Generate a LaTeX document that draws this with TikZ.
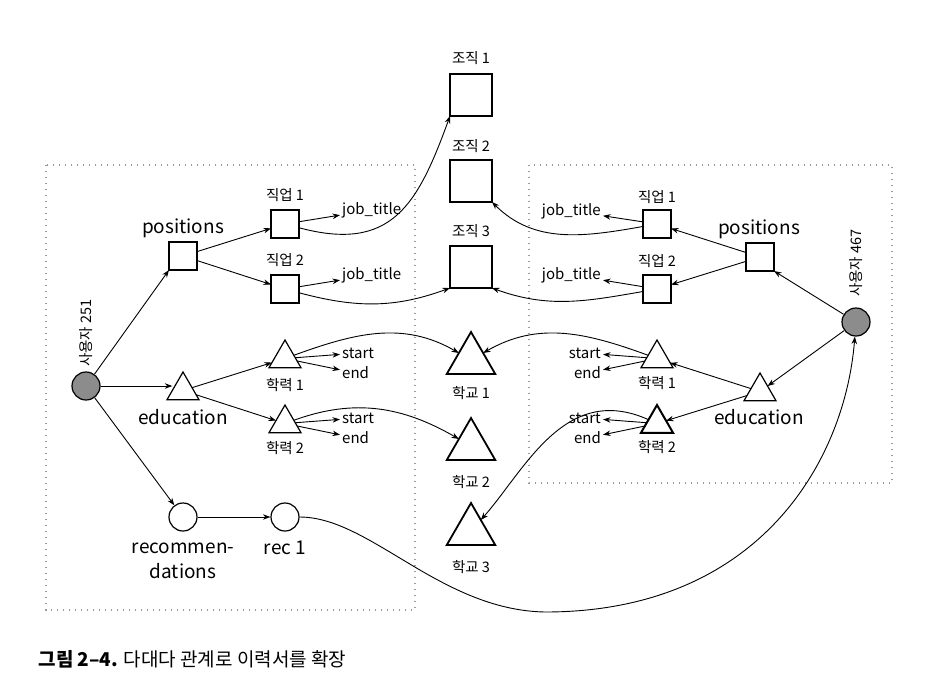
\documentclass[tikz,border=0pt]{standalone}
\usepackage{fontspec}
\setmainfont{Noto Sans CJK KR}
\usepackage{xcolor}
\usepackage{tikz}
\usetikzlibrary{shapes.geometric,arrows.meta}

\begin{document}
\begin{tikzpicture}[x=1pt,y=1pt,>={Stealth[length=7.5pt,width=5.5pt]},
    ent/.style={draw,line width=1.2pt,minimum size=28pt,inner sep=0pt,outer sep=0pt},
    bigent/.style={ent,line width=1.5pt,minimum size=42pt},
    tri/.style={draw,line width=1.2pt,regular polygon,regular polygon sides=3,minimum size=37pt,inner sep=0pt,outer sep=0pt},
    bigtri/.style={tri,line width=1.8pt,minimum size=56pt},
    person/.style={circle,draw,line width=1.2pt,fill=black!45,minimum size=28pt,inner sep=0pt},
    recnode/.style={circle,draw,line width=1.2pt,minimum size=28pt,inner sep=0pt},
    big/.style={font=\fontsize{19}{25}\selectfont,inner sep=1pt},
    sml/.style={font=\fontsize{15}{18}\selectfont,inner sep=2pt},
    kor/.style={font=\fontsize{14.5}{17}\selectfont,inner sep=1pt},
    link/.style={->,line width=0.9pt},
    groupbox/.style={black!40,line width=1.2pt,dash pattern=on 1.2pt off 4.8pt}]
                \useasboundingbox (0,0) rectangle (939,-697);

                % Dotted boxes round each user
                \draw[groupbox] (46,-165) rectangle (415,-610);
                \draw[groupbox] (529,-165) rectangle (892,-483);

                % User 251
                \node[person] (uL) at (86,-386) {};
                \node[kor,rotate=90] (uLt) at (86,-333) {사용자 251};
                \node[ent] (posL) at (183,-256) {};
                \node[big] (posLt) at (183,-228) {positions};
                \node[ent] (jobL1) at (285,-224) {};
                \node[kor] (jobL1t) at (285,-195) {직업 1};
                \node[sml,anchor=west] (jtL1) at (340,-210) {job\_title};
                \node[ent] (jobL2) at (285,-289) {};
                \node[kor] (jobL2t) at (285,-260) {직업 2};
                \node[sml,anchor=west] (jtL2) at (340,-275) {job\_title};
                \node[tri] (eduL) at (183,-390.5) {};
                \node[big] (eduLt) at (183,-417) {education};
                \node[tri] (degL1) at (285,-358.5) {};
                \node[kor] (degL1t) at (285,-385) {학력 1};
                \node[sml,anchor=west] (stL1) at (340,-353) {start};
                \node[sml,anchor=west] (enL1) at (340,-373) {end};
                \node[tri] (degL2) at (285,-423.5) {};
                \node[kor] (degL2t) at (285,-448) {학력 2};
                \node[sml,anchor=west] (stL2) at (340,-418) {start};
                \node[sml,anchor=west] (enL2) at (340,-438) {end};
                \node[recnode] (recsL) at (183,-517) {};
                \node[big,align=center] (recsLt) at (183,-561) {recommen-\\dations};
                \node[recnode] (recL1) at (285,-517) {};
                \node[big] (recL1t) at (285,-548) {rec 1};

                % Shared organisations and schools
                \node[bigent] (orgA) at (471,-95) {};
                \node[kor] (orgAt) at (471,-58) {조직 1};
                \node[bigent] (orgB) at (471,-181) {};
                \node[kor] (orgBt) at (471,-146) {조직 2};
                \node[bigent,line width=2pt] (orgC) at (471,-267) {};
                \node[kor] (orgCt) at (471,-231) {조직 3};
                \node[bigtri] (schA) at (471,-360) {};
                \node[kor] (schAt) at (471,-393) {학교 1};
                \node[bigtri] (schB) at (471,-446) {};
                \node[kor] (schBt) at (471,-482) {학교 2};
                \node[bigtri] (schC) at (471,-531) {};
                \node[kor] (schCt) at (471,-567) {학교 3};

                % User 467
                \node[person] (uR) at (856,-322) {};
                \node[kor,rotate=90] (uRt) at (856,-263) {사용자 467};
                \node[ent] (posR) at (760,-257) {};
                \node[big] (posRt) at (759,-229) {positions};
                \node[ent] (jobR1) at (657,-224) {};
                \node[kor] (jobR1t) at (657,-197) {직업 1};
                \node[sml,anchor=east] (jtR1) at (603,-211) {job\_title};
                \node[ent] (jobR2) at (657,-289) {};
                \node[kor] (jobR2t) at (657,-261) {직업 2};
                \node[sml,anchor=east] (jtR2) at (603,-275) {job\_title};
                \node[tri] (degR1) at (657,-358.5) {};
                \node[kor] (degR1t) at (657,-383) {학력 1};
                \node[sml,anchor=east] (stR1) at (603,-353) {start};
                \node[sml,anchor=east] (enR1) at (603,-373) {end};
                \node[tri] (eduR) at (760,-391.5) {};
                \node[big] (eduRt) at (759,-417) {education};
                \node[tri,line width=2pt] (degR2) at (657,-423.5) {};
                \node[kor] (degR2t) at (657,-447) {학력 2};
                \node[sml,anchor=east] (stR2) at (603,-418) {start};
                \node[sml,anchor=east] (enR2) at (603,-438) {end};

                % Edges inside user 251
                \draw[link] (uL) -- (posL.south west);
                \draw[link] (uL.east) -- (eduL.west |- uL.east);
                \draw[link] (uL) -- (recsL);
                \draw[link] (posL) -- (jobL1);
                \draw[link] (posL) -- (jobL2);
                \draw[link] (jobL1) -- (jtL1);
                \draw[link] (jobL2) -- (jtL2);
                \draw[link] (eduL) -- (degL1);
                \draw[link] (eduL) -- (degL2);
                \draw[link] (degL1) -- (stL1);
                \draw[link] (degL1) -- (enL1);
                \draw[link] (degL2) -- (stL2);
                \draw[link] (degL2) -- (enL2);
                \draw[link] (recsL) -- (recL1);

                % Edges inside user 467
                \draw[link] (uR) -- (posR.south east);
                \draw[link] (uR) -- (eduR);
                \draw[link] (posR) -- (jobR1);
                \draw[link] (posR) -- (jobR2);
                \draw[link] (jobR1) -- (jtR1);
                \draw[link] (jobR2) -- (jtR2);
                \draw[link] (eduR) -- (degR1);
                \draw[link] (eduR) -- (degR2);
                \draw[link] (degR1) -- (stR1);
                \draw[link] (degR1) -- (enR1);
                \draw[link] (degR2) -- (stR2);
                \draw[link] (degR2) -- (enR2);

                % References to shared vertices
                \draw[link] (jobL1) to[out=-15,in=-110,looseness=1.3] (orgA.south west);
                \draw[link] (jobL2) to[out=-15,in=200] (orgC.south west);
                \draw[link] (degL1) to[out=20,in=150] (schA);
                \draw[link] (degL2) to[out=20,in=150] (schB);
                \draw[link] (jobR1) to[out=190,in=-45] (orgB.south east);
                \draw[link] (jobR2) to[out=190,in=-20] (orgC.south east);
                \draw[link] (degR1) to[out=160,in=30] (schA);
                \draw[link] (degR2) .. controls (565,-382) and (525,-470) .. (schC);
                \draw[link] (recL1) .. controls (370,-517) and (440,-610) .. (545,-612)
                                    .. controls (760,-612) and (845,-460) .. (uR);

                % Caption
                \node[anchor=west,font=\fontsize{19}{22}\selectfont] (cap) at (35,-659) {\textbf{그림 2–4.} 다대다 관계로 이력서를 확장};
            \end{tikzpicture}
\end{document}
